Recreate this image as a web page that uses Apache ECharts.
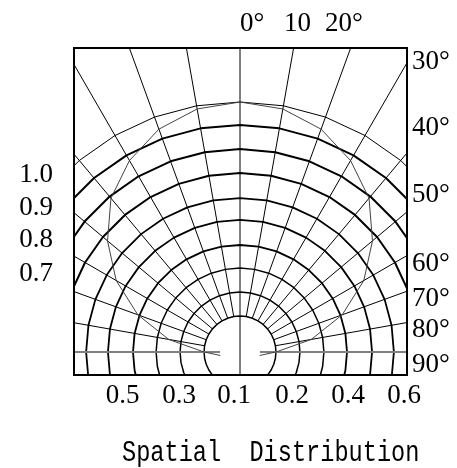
<!DOCTYPE html>
<html>
<head>
<meta charset="utf-8">
<script src="https://cdn.jsdelivr.net/npm/echarts@6/dist/echarts.min.js"></script>
<style>
html,body{margin:0;padding:0;background:#fff;}
#chart{width:457px;height:468px;}
</style>
</head>
<body>
<div id="chart"></div>
<script>
// ---------------- data ----------------
// relative-intensity levels of the concentric grid arcs (0 = inner circle, 1 = outer arc)
const arcLevels = [0, 0.112, 0.224, 0.332, 0.449, 0.551, 0.668, 0.780, 0.893, 1.0];
// angles (deg, 0 = straight up, clockwise positive) used as arc vertices
const arcAngles = [-180, -170, -160, -150, -140, -130, -120, -110, -100, -90, -80, -70, -60, -50, -40, -30, -20, -10, 0,
                   10, 20, 30, 40, 50, 60, 70, 80, 90, 100, 110, 120, 130, 140, 150, 160, 170, 180];
// radial grid lines
const spokeAngles = [-80, -70, -60, -50, -40, -30, -20, -10, 10, 20, 30, 40, 50, 60, 70, 80];
// measured radiation pattern
const patternAngles = [-100, -90, -80, -70, -60, -50, -40, -30, -20, -10, 0, 10, 20, 30, 40, 50, 60, 70, 80, 90, 100];
const patternValues = [-0.075, 0, 0.17, 0.34, 0.5, 0.64, 0.77, 0.865, 0.94, 0.985, 1.0, 0.985, 0.94, 0.865, 0.77, 0.64, 0.5, 0.34, 0.17, 0, -0.075];
// text
const leftLabels = ['1.0', '0.9', '0.8', '0.7'];
const rightLabels = ['30°', '40°', '50°', '60°', '70°', '80°', '90°'];
const bottomLabels = ['0.5', '0.3', '0.1', '0.2', '0.4', '0.6'];
const topLabels = ['0°', '10', '20°'];
const titleText = 'Spatial  Distribution';

// ---------------- layout / style ----------------
const RMIN = -0.168;   // polar centre
const RMAX = 1.5;
const box = {x: 74, y: 48, w: 333, h: 327};
const arcWidths = [1.5, 1.5, 1.5, 1.8, 1.8, 1.8, 2, 2, 2, 1];
const leftPos = {x: 36, y: [175, 207.5, 239.5, 273.5]};
const rightPos = {x: 412, y: [61.5, 127.5, 194.5, 263.5, 298.5, 329.5, 364.5]};
const bottomPos = {x: [122.5, 179, 234, 292, 348, 404], y: 395.5};
const topPos = {x: [240, 284, 325], y: 23.5};
const numFont = '27px "Liberation Serif"';

const base = {type: 'line', coordinateSystem: 'polar', showSymbol: false, symbol: 'none',
  clip: false, silent: true, animation: false};

const series = [];
arcLevels.forEach((lv, i) => {
  series.push(Object.assign({}, base, {
    data: arcAngles.map(a => [lv, a]),
    lineStyle: {color: '#000', width: arcWidths[i]}
  }));
});
spokeAngles.forEach(a => {
  series.push(Object.assign({}, base, {
    data: [[0, a], [RMAX, a]],
    lineStyle: {color: '#000', width: 1}
  }));
});
// vertical axis through centre
series.push(Object.assign({}, base, {
  data: [[RMAX, 0], [RMAX, 180]],
  lineStyle: {color: '#000', width: 1}
}));
// horizontal 90° line
series.push(Object.assign({}, base, {
  data: [[RMAX, -90], [-0.075, -90]],
  lineStyle: {color: '#808080', width: 2}
}));
series.push(Object.assign({}, base, {
  data: [[-0.075, 90], [RMAX, 90]],
  lineStyle: {color: '#808080', width: 2}
}));
// radiation pattern
series.push(Object.assign({}, base, {
  data: patternAngles.map((a, i) => [patternValues[i], a]),
  lineStyle: {color: '#444', width: 1}
}));

const graphics = [
  {type: 'rect', shape: {x: 0, y: 0, width: box.x - 1, height: 468}, style: {fill: '#fff'}, z: 100},
  {type: 'rect', shape: {x: box.x + box.w + 1, y: 0, width: 60, height: 468}, style: {fill: '#fff'}, z: 100},
  {type: 'rect', shape: {x: 0, y: 0, width: 457, height: box.y - 1}, style: {fill: '#fff'}, z: 100},
  {type: 'rect', shape: {x: 0, y: box.y + box.h + 1, width: 457, height: 100}, style: {fill: '#fff'}, z: 100},
  {type: 'rect', shape: {x: box.x, y: box.y, width: box.w, height: box.h},
   style: {fill: 'none', stroke: '#000', lineWidth: 2}, z: 101}
];
leftLabels.forEach((t, i) => graphics.push({type: 'text', x: leftPos.x, y: leftPos.y[i], z: 102,
  style: {text: t, font: numFont, fill: '#000', textAlign: 'center', textVerticalAlign: 'middle'}}));
rightLabels.forEach((t, i) => graphics.push({type: 'text', x: rightPos.x, y: rightPos.y[i], z: 102,
  style: {text: t, font: numFont, fill: '#000', textAlign: 'left', textVerticalAlign: 'middle'}}));
bottomLabels.forEach((t, i) => graphics.push({type: 'text', x: bottomPos.x[i], y: bottomPos.y, z: 102,
  style: {text: t, font: numFont, fill: '#000', textAlign: 'center', textVerticalAlign: 'middle'}}));
topLabels.forEach((t, i) => graphics.push({type: 'text', x: topPos.x[i], y: topPos.y, z: 102,
  style: {text: t, font: numFont, fill: '#000', textAlign: 'left', textVerticalAlign: 'middle'}}));
graphics.push({type: 'text', x: 122, y: 453, z: 102, scaleX: 0.8,
  style: {text: titleText, font: '29.5px "Liberation Mono"', fill: '#000', textAlign: 'left', textVerticalAlign: 'middle'}});

const chart = echarts.init(document.getElementById('chart'), null, {renderer: 'canvas'});
chart.setOption({
  animation: false,
  backgroundColor: '#fff',
  polar: {center: [240, 352], radius: 357},
  angleAxis: {type: 'value', min: -180, max: 180, startAngle: 270, clockwise: true, show: false},
  radiusAxis: {type: 'value', min: RMIN, max: RMAX, show: false},
  series: series,
  graphic: {elements: graphics}
});
</script>
</body>
</html>
